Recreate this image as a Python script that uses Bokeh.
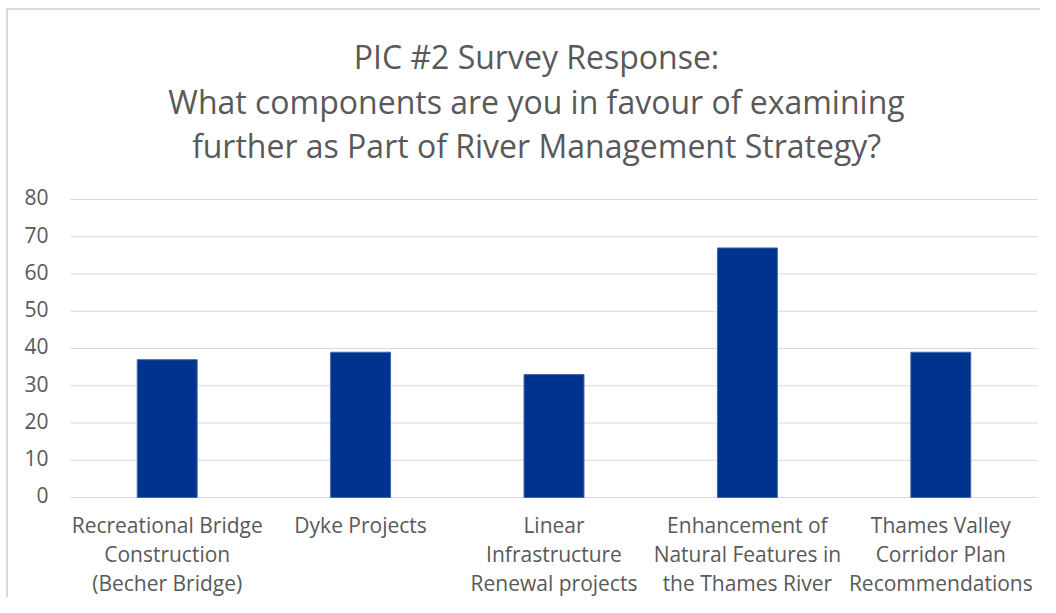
from bokeh.plotting import figure
from bokeh.models import Range1d
from bokeh.core.properties import value
from bokeh.embed import file_html
from bokeh.resources import INLINE

categories = [
    "Recreational Bridge\nConstruction\n(Becher Bridge)",
    "Dyke Projects",
    "Linear\nInfrastructure\nRenewal projects",
    "Enhancement of\nNatural Features in\nthe Thames River",
    "Thames Valley\nCorridor Plan\nRecommendations",
]
values = [37, 39, 33, 67, 39]
title_lines = [
    "PIC #2 Survey Response:",
    "What components are you in favour of examining",
    "further as Part of River Management Strategy?",
]
y_ticks = [0, 10, 20, 30, 40, 50, 60, 70, 80]

FONT = "Open Sans"
GREY = "#595959"
GRID = "#d9d9d9"

# layout (pixels within the figure)
W, H = 1040, 597
PL, PR, PT, PB = 70, 1037, 199, 497      # plot area edges
Y0, Y1 = 0, 80
n = len(categories)
xs = list(range(n))
dx = n / (PR - PL)                        # data units per pixel (x)
dy = (Y1 - Y0) / (PB - PT)                # data units per pixel (y)
BASE_FIX = 0.46                           # svg baseline correction (em)


def py(pix):
    return Y0 + (PB - pix) * dy


def px(pix):
    return -0.5 + (pix - PL) * dx


p = figure(width=W, height=H, output_backend="svg", toolbar_location=None,
           title=None, x_axis_type=None, y_axis_type=None,
           x_range=Range1d(px(0), px(W)), y_range=Range1d(py(H), py(0)),
           min_border=0, min_border_left=0, min_border_right=0,
           min_border_top=0, min_border_bottom=0)
p.outline_line_color = None
p.background_fill_color = None
p.border_fill_color = None
p.styles = {
    "background": "linear-gradient(#d9d9d9,#d9d9d9) 6px 8px / 2px 100% no-repeat, "
                  "linear-gradient(#d9d9d9,#d9d9d9) 6px 8px / 100% 2px no-repeat, white"
}

# horizontal gridlines (y = 0 acts as the category axis line)
p.segment(x0=[-0.5] * len(y_ticks), x1=[n - 0.5] * len(y_ticks), y0=y_ticks, y1=y_ticks,
          line_color=GRID, line_width=1)

# bars
p.vbar(x=xs, top=values, bottom=0, width=0.31, fill_color="#00338D",
       line_color="#4068b0", line_width=1)

# y tick labels
fs_y = 21
p.text(x=[px(48)] * len(y_ticks), y=[t - (7.5 - BASE_FIX * fs_y) * dy for t in y_ticks],
       text=[str(t) for t in y_ticks],
       text_font=value(FONT), text_font_size=f"{fs_y}px", text_color=GREY,
       text_align="right", text_baseline="alphabetic")

# category labels (multi-line)
fs_x = 21
lx, ly, lt = [], [], []
for i, c in enumerate(categories):
    for j, line in enumerate(c.split("\n")):
        lx.append(i)
        ly.append(py(534 + 29 * j - BASE_FIX * fs_x))
        lt.append(line)
p.text(x=lx, y=ly, text=lt, text_font=value(FONT), text_font_size=f"{fs_x}px", text_color=GREY,
       text_align="center", text_baseline="alphabetic")

# title
fs_t = 32
p.text(x=[px(536)] * len(title_lines),
       y=[py(71 + 44.5 * i - BASE_FIX * fs_t) for i in range(len(title_lines))],
       text=title_lines, text_font=value(FONT), text_font_size=f"{fs_t}px", text_color=GREY,
       text_align="center", text_baseline="alphabetic")

open("out.html", "w").write(file_html(p, INLINE))
